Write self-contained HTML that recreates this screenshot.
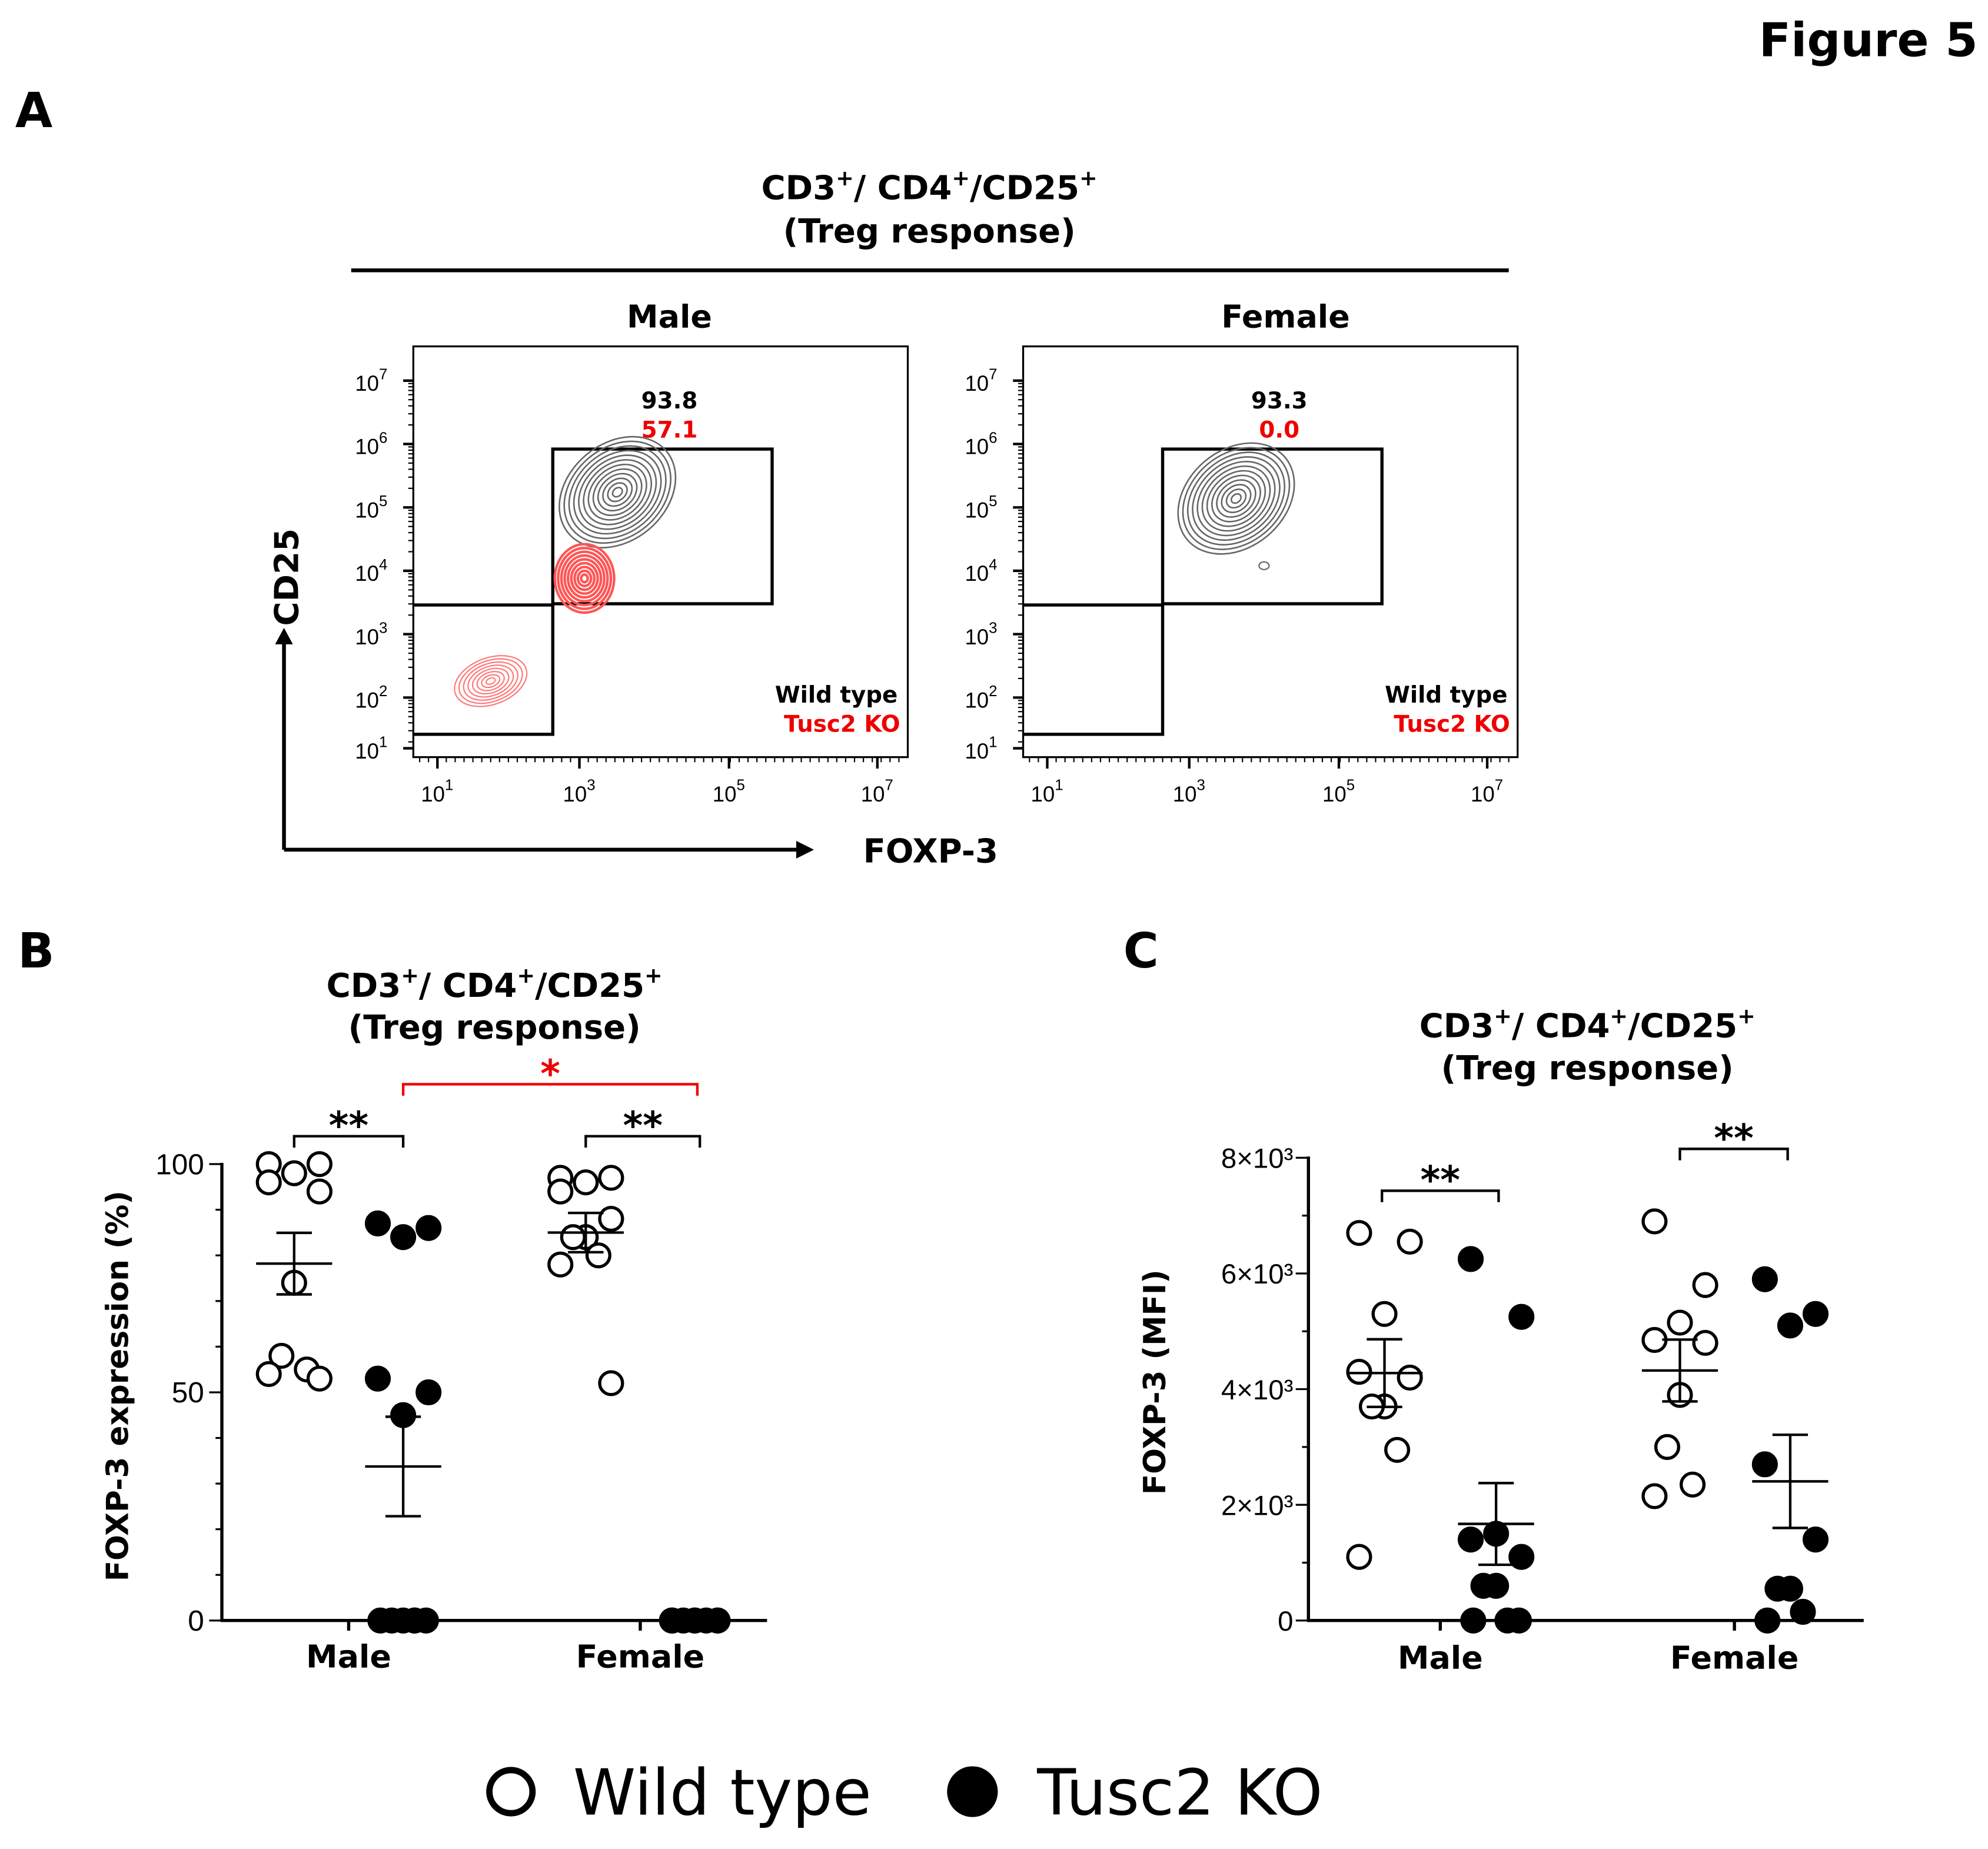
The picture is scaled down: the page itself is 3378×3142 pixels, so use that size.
<!DOCTYPE html>
<html><head><meta charset="utf-8"><style>
html,body{margin:0;padding:0;background:#fff}
svg{display:block}
text{font-family:"DejaVu Sans","Liberation Sans",sans-serif}
text.tk{font-family:"Liberation Sans",Arial,sans-serif}
</style></head><body>
<svg id="fig" width="3378" height="3142" viewBox="0 0 1568 1458" xmlns="http://www.w3.org/2000/svg">
<text x="1560" y="44" text-anchor="end" font-size="37" font-weight="bold">Figure 5</text>
<text x="12" y="100" font-size="38" font-weight="bold">A</text>
<g font-weight="bold" font-size="26" text-anchor="middle">
<text x="733" y="157">CD3<tspan font-size="17" dy="-11">+</tspan><tspan dy="11">/ CD4</tspan><tspan font-size="17" dy="-11">+</tspan><tspan dy="11">/CD25</tspan><tspan font-size="17" dy="-11">+</tspan></text>
<text x="733" y="191">(Treg response)</text>
</g>
<line x1="277" y1="213" x2="1190" y2="213" stroke="#000" stroke-width="3"/>
<text x="528" y="258" text-anchor="middle" font-size="25" font-weight="bold">Male</text>
<text x="1014" y="258" text-anchor="middle" font-size="25" font-weight="bold">Female</text>
<g id="flow"></g>
<g>
<line x1="224" y1="670" x2="224" y2="505" stroke="#000" stroke-width="3"/>
<polygon points="217,508 231,508 224,495" fill="#000"/>
<line x1="224" y1="670" x2="630" y2="670" stroke="#000" stroke-width="3"/>
<polygon points="628,663 628,677 642,670" fill="#000"/>
</g>
<text transform="translate(235,455) rotate(-90)" text-anchor="middle" font-size="26" font-weight="bold">CD25</text>
<text x="734" y="680" text-anchor="middle" font-size="26" font-weight="bold">FOXP-3</text>

<text x="14" y="763" font-size="38" font-weight="bold">B</text>
<g font-weight="bold" font-size="26" text-anchor="middle">
<text x="390" y="786">CD3<tspan font-size="17" dy="-11">+</tspan><tspan dy="11">/ CD4</tspan><tspan font-size="17" dy="-11">+</tspan><tspan dy="11">/CD25</tspan><tspan font-size="17" dy="-11">+</tspan></text>
<text x="390" y="819">(Treg response)</text>
</g>
<text x="886" y="763" font-size="38" font-weight="bold">C</text>
<g font-weight="bold" font-size="26" text-anchor="middle">
<text x="1252" y="818">CD3<tspan font-size="17" dy="-11">+</tspan><tspan dy="11">/ CD4</tspan><tspan font-size="17" dy="-11">+</tspan><tspan dy="11">/CD25</tspan><tspan font-size="17" dy="-11">+</tspan></text>
<text x="1252" y="851">(Treg response)</text>
</g>
<g id="chartB"></g>
<g id="chartC"></g>
<g>
<circle cx="403" cy="1413" r="17" fill="none" stroke="#000" stroke-width="5"/>
<text x="452" y="1431" font-size="50">Wild type</text>
<circle cx="767" cy="1413" r="20" fill="#000"/>
<text x="818" y="1431" font-size="50">Tusc2 KO</text>
</g>
</svg>
<script>
// ---------- Panel B data ----------
const bCategories = ["Male", "Female"];
const bMaleWT = [100, 100, 98, 96, 94, 74, 58, 55, 54, 53];
const bMaleKO = [87, 86, 84, 53, 50, 45, 0, 0, 0, 0, 0, 0];
const bFemaleWT = [97, 97, 96, 94, 88, 84, 84, 80, 78, 52];
const bFemaleKO = [0, 0, 0, 0, 0, 0, 0, 0];
const bTicks = [0, 50, 100];
// ---------- Panel C data ----------
const cCategories = ["Male", "Female"];
const cMaleWT = [6700, 6550, 5300, 4300, 4200, 3700, 3700, 2950, 1100];
const cMaleKO = [6250, 5250, 1500, 1400, 1100, 600, 600, 0, 0, 0];
const cFemaleWT = [6900, 5800, 5150, 4850, 4800, 3900, 3000, 2350, 2150];
const cFemaleKO = [5900, 5300, 5100, 2700, 1400, 550, 550, 150, 0];
const cTicks = [0, 2000, 4000, 6000, 8000];
const cTickLabels = ["0", "2×10³", "4×10³", "6×10³", "8×10³"];

const NS = "http://www.w3.org/2000/svg";
function mk(tag, attrs, parent) {
  const e = document.createElementNS(NS, tag);
  for (const k in attrs) e.setAttribute(k, attrs[k]);
  parent.appendChild(e);
  return e;
}
function stats(a) {
  const m = a.reduce((s, v) => s + v, 0) / a.length;
  const sd = Math.sqrt(a.reduce((s, v) => s + (v - m) * (v - m), 0) / (a.length - 1));
  return [m, sd / Math.sqrt(a.length)];
}
const jit = [-20, 20, 0, -20, 20, 0, -10, 10, -20, 20, 0, 10];

function drawGroup(g, vals, cx, y, filled, name, r) {
  vals.forEach((v, i) => {
    const c = mk("circle", { cx: cx + jit[i % jit.length] * (v === 0 && filled ? 0.9 : 1), cy: y(v), r: r,
      fill: filled ? "#000" : "#fff", stroke: "#000", "stroke-width": 2.5 }, g);
    
    
  });
  const [m, se] = stats(vals);
  const e = mk("g", { stroke: "#000", "stroke-width": 2, fill: "none" }, g);
  
  
  mk("line", { x1: cx - 30, x2: cx + 30, y1: y(m), y2: y(m) }, e);
  mk("line", { x1: cx, x2: cx, y1: y(m - se), y2: y(m + se) }, e);
  mk("line", { x1: cx - 14, x2: cx + 14, y1: y(m - se), y2: y(m - se) }, e);
  mk("line", { x1: cx - 14, x2: cx + 14, y1: y(m + se), y2: y(m + se) }, e);
}
function bracket(g, x1, x2, yb, label, color, name) {
  const b = mk("g", {}, g);
  
  
  mk("path", { d: `M${x1},${yb + 9}V${yb}H${x2}V${yb + 9}`, fill: "none", stroke: color, "stroke-width": 2 }, b);
  const t = mk("text", { x: (x1 + x2) / 2, y: yb + 2, "text-anchor": "middle", "font-size": 30, "font-weight": "bold", fill: color }, b);
  t.textContent = label;
}

// ---------- Panel B ----------
(function () {
  const g = document.getElementById("chartB");
  const y = v => 1278 - v * 3.6;
  const ax = mk("g", { stroke: "#000", "stroke-width": 2.5 }, g);
  
  
  mk("line", { x1: 175, x2: 175, y1: 917, y2: 1279 }, ax);
  mk("line", { x1: 174, x2: 605, y1: 1278, y2: 1278 }, ax);
  for (let v = 0; v <= 100; v += 10) mk("line", { x1: v % 50 ? 170 : 165, x2: 175, y1: y(v), y2: y(v), "stroke-width": 1.5 }, ax);
  [275, 505].forEach(x => mk("line", { x1: x, x2: x, y1: 1278, y2: 1286 }, ax));
  bTicks.forEach(v => {
    const t = mk("text", { x: 161, y: y(v) + 8, "text-anchor": "end", "font-size": 23, class: "tk" }, g);
    
    
    t.textContent = v;
  });
  [275, 505].forEach((x, i) => {
    const t = mk("text", { x: x, y: 1315, "text-anchor": "middle", "font-size": 25, "font-weight": "bold" }, g);
    
    
    t.textContent = bCategories[i];
  });
  const yt = mk("text", { transform: "translate(101,1093) rotate(-90)", "text-anchor": "middle", "font-size": 24, "font-weight": "bold" }, g);
  
  
  yt.textContent = "FOXP-3 expression (%)";
  drawGroup(g, bMaleWT, 232, y, false, "b-male-wt", 9);
  drawGroup(g, bMaleKO, 318, y, true, "b-male-ko", 9);
  drawGroup(g, bFemaleWT, 462, y, false, "b-female-wt", 9);
  drawGroup(g, bFemaleKO, 548, y, true, "b-female-ko", 9);
  bracket(g, 232, 318, 896, "**", "#000", "b-male-significance");
  bracket(g, 318, 550, 855, "*", "#e00", "b-ko-significance");
  bracket(g, 462, 552, 896, "**", "#000", "b-female-significance");
})();

// ---------- Panel C ----------
(function () {
  const g = document.getElementById("chartC");
  const y = v => 1278 - v * (365 / 8000);
  const ax = mk("g", { stroke: "#000", "stroke-width": 2.5 }, g);
  
  
  mk("line", { x1: 1032, x2: 1032, y1: 912, y2: 1279 }, ax);
  mk("line", { x1: 1031, x2: 1470, y1: 1278, y2: 1278 }, ax);
  for (let v = 0; v <= 8000; v += 1000) mk("line", { x1: v % 2000 ? 1027 : 1022, x2: 1032, y1: y(v), y2: y(v), "stroke-width": 1.5 }, ax);
  [1136, 1368].forEach(x => mk("line", { x1: x, x2: x, y1: 1278, y2: 1286 }, ax));
  cTicks.forEach((v, i) => {
    const t = mk("text", { x: 1020, y: y(v) + 8, "text-anchor": "end", "font-size": 22, class: "tk" }, g);
    
    
    t.textContent = cTickLabels[i];
  });
  [1136, 1368].forEach((x, i) => {
    const t = mk("text", { x: x, y: 1316, "text-anchor": "middle", "font-size": 25, "font-weight": "bold" }, g);
    
    
    t.textContent = cCategories[i];
  });
  const yt = mk("text", { transform: "translate(919,1090) rotate(-90)", "text-anchor": "middle", "font-size": 24, "font-weight": "bold" }, g);
  
  
  yt.textContent = "FOXP-3 (MFI)";
  drawGroup(g, cMaleWT, 1092, y, false, "c-male-wt", 9);
  drawGroup(g, cMaleKO, 1180, y, true, "c-male-ko", 9);
  drawGroup(g, cFemaleWT, 1325, y, false, "c-female-wt", 9);
  drawGroup(g, cFemaleKO, 1412, y, true, "c-female-ko", 9);
  bracket(g, 1090, 1182, 939, "**", "#000", "c-male-significance");
  bracket(g, 1325, 1410, 906, "**", "#000", "c-female-significance");
})();

// ---------- Panel A flow plots ----------
const flowPanels = ["male", "female"];
const flowWT = ["93.8", "93.3"];
const flowKO = ["57.1", "0.0"];
(function () {
  const g = document.getElementById("flow");
  const offs = [326, 807];
  offs.forEach((x0, p) => {
    const pg = mk("g", {}, g);
    
    
    mk("rect", { x: x0, y: 273, width: 390, height: 324, fill: "none", stroke: "#000", "stroke-width": 1.5 }, pg);
    const ylab = ["7", "6", "5", "4", "3", "2", "1"];
    const yy = [300, 350, 400, 450, 500, 550, 590];
    yy.forEach((yv, i) => {
      mk("line", { x1: x0 - 8, x2: x0, y1: yv, y2: yv, stroke: "#000", "stroke-width": 2 }, pg);
      for (let k = 1; k < 9 && i < 6; k++) mk("line", { x1: x0 - 4, x2: x0, y1: yv + 50 * (1 - Math.log10(k + 1)), y2: yv + 50 * (1 - Math.log10(k + 1)), stroke: "#000", "stroke-width": 1 }, pg);
      const t = mk("text", { x: x0 - 46, y: yv + 8, "font-size": 17, class: "tk" }, pg);
      
      
      t.innerHTML = '10<tspan font-size="12" dy="-9">' + ylab[i] + '</tspan>';
    });
    const xl = ["1", "3", "5", "7"];
    [345, 457, 575, 692].forEach((xv, i) => {
      const xx = x0 + xv - 326;
      mk("line", { x1: xx, x2: xx, y1: 597, y2: 606, stroke: "#000", "stroke-width": 2 }, pg);
      const t = mk("text", { x: xx - 13, y: 632, "font-size": 17, class: "tk" }, pg);
      
      
      t.innerHTML = '10<tspan font-size="12" dy="-9">' + xl[i] + '</tspan>';
    });
    for (let xx = x0 + 5; xx < x0 + 385; xx += 7) mk("line", { x1: xx, x2: xx, y1: 597, y2: 601, stroke: "#000", "stroke-width": 1 }, pg);
    mk("rect", { x: x0 + 110, y: 354, width: 173, height: 122, fill: "none", stroke: "#000", "stroke-width": 2.5 }, pg);
    mk("path", { d: `M${x0},477H${x0 + 110}V579H${x0}`, fill: "none", stroke: "#000", "stroke-width": 2.5 }, pg);
    const t1 = mk("text", { x: x0 + 202, y: 322, "text-anchor": "middle", "font-size": 18, "font-weight": "bold" }, pg);
    t1.textContent = flowWT[p];
    
    
    const t2 = mk("text", { x: x0 + 202, y: 345, "text-anchor": "middle", "font-size": 18, "font-weight": "bold", fill: "#e00" }, pg);
    t2.textContent = flowKO[p];
    
    
    const l1 = mk("text", { x: x0 + 382, y: 554, "text-anchor": "end", "font-size": 18, "font-weight": "bold" }, pg);
    l1.textContent = "Wild type";
    
    
    const l2 = mk("text", { x: x0 + 384, y: 577, "text-anchor": "end", "font-size": 18, "font-weight": "bold", fill: "#e00" }, pg);
    l2.textContent = "Tusc2 KO";
    
    
    const cg = mk("g", { fill: "none" }, pg);
    
    
    const gx = p === 0 ? x0 + 161 : x0 + 168, gy = p === 0 ? 388 : 393;
    for (let k = 1; k <= 12; k++) mk("ellipse", { cx: gx, cy: gy, rx: 4.2 * k, ry: 3.2 * k, transform: `rotate(-40 ${gx} ${gy})`, stroke: "#666", "stroke-width": 1.2 }, cg);
    if (p === 0) {
      for (let k = 1; k <= 9; k++) mk("ellipse", { cx: x0 + 135, cy: 456, rx: 2.6 * k, ry: 3 * k, stroke: "#f55", "stroke-width": 2 }, cg);
      for (let k = 1; k <= 8; k++) mk("ellipse", { cx: x0 + 61, cy: 537, rx: 3.7 * k, ry: 2.3 * k, transform: `rotate(-20 ${x0 + 61} 537)`, stroke: "#f77", "stroke-width": 1 }, cg);
    } else {
      mk("ellipse", { cx: x0 + 190, cy: 446, rx: 4, ry: 3, stroke: "#666", "stroke-width": 1 }, cg);
    }
  });
})();
</script>
</body></html>
